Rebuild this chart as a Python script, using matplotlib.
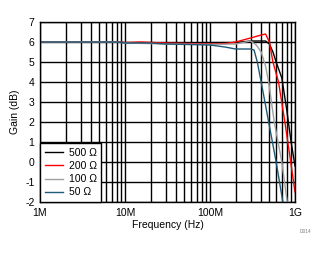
import matplotlib
matplotlib.use("Agg")
import matplotlib.pyplot as plt
from matplotlib.ticker import FixedLocator, LogLocator, NullFormatter

plt.rcParams['font.family'] = ['Liberation Sans', 'DejaVu Sans']
plt.rcParams['axes.unicode_minus'] = False

# frequency (Hz) and gain (dB)
f_500 = [1e6, 8e6, 1e7, 3e7, 1e8, 2e8, 3e8, 4.5e8, 5e8, 5.5e8, 6e8, 7e8, 8e8, 9e8, 1e9]
g_500 = [6.0, 6.0, 5.97, 5.95, 5.97, 5.97, 6.05, 6.05, 5.9, 5.5, 5.0, 4.2, 2.6, 1.0, -0.2]

f_200 = [1e6, 8e6, 1e7, 1.5e7, 3e7, 1e8, 1.5e8, 2e8, 3e8, 4e8, 4.5e8, 5e8, 5.5e8, 6.4e8, 7.6e8, 8.9e8, 1e9]
g_200 = [6.0, 6.0, 5.97, 6.0, 5.95, 5.9, 5.92, 6.0, 6.2, 6.35, 6.4, 6.0, 5.0, 4.0, 2.0, 0.0, -1.5]

f_100 = [1e6, 8e6, 1e7, 3e7, 1e8, 2e8, 3e8, 3.5e8, 4e8, 4.5e8, 4.9e8, 5.7e8, 7e8, 8.1e8]
g_100 = [6.0, 6.0, 5.95, 5.9, 5.88, 5.9, 6.05, 5.85, 5.5, 4.8, 4.0, 2.0, 0.0, -2.0]

f_50 = [1e6, 8e6, 1e7, 2e7, 3e7, 1e8, 1.5e8, 2e8, 3e8, 3.3e8, 3.6e8, 4e8, 4.9e8, 6e8, 7.2e8]
g_50 = [6.0, 6.0, 5.95, 5.95, 5.9, 5.85, 5.75, 5.65, 5.65, 5.6, 5.0, 4.0, 2.0, 0.0, -2.0]

labels = ['500 \u03a9', '200 \u03a9', '100 \u03a9', '50 \u03a9']
colors = ['#000000', '#ff0000', '#a0a0a0', '#1f5a78']

fig = plt.figure(figsize=(3.24, 2.54), dpi=100)
ax = fig.add_axes([40 / 324, 52 / 254, 255 / 324, 180 / 254])

for f, g, lab, c in zip([f_500, f_200, f_100, f_50], [g_500, g_200, g_100, g_50], labels, colors):
    ax.plot(f, g, color=c, lw=1.0, label=lab)

ax.set_xscale('log')
ax.set_xlim(1e6, 1e9)
ax.set_ylim(-2, 7)
ax.set_xticks([1e6, 1e7, 1e8, 1e9])
ax.set_xticklabels(['1M', '10M', '100M', '1G'])
ax.xaxis.set_minor_locator(LogLocator(base=10, subs=range(2, 10)))
ax.xaxis.set_minor_formatter(NullFormatter())
ax.yaxis.set_major_locator(FixedLocator(range(-2, 8)))
ax.grid(True, which='both', color='black', lw=1.0)
ax.set_axisbelow(True)
ax.tick_params(which='both', length=0, labelsize=7.5, pad=4)
for s in ax.spines.values():
    s.set_linewidth(1.0)

ax.set_xlabel('Frequency (Hz)', fontsize=7.5, labelpad=2)
ax.set_ylabel('Gain (dB)', fontsize=7.5, labelpad=4)

leg = ax.legend(loc='lower left', fontsize=7.5, frameon=True, fancybox=False,
                borderaxespad=0, handlelength=1.8, labelspacing=0.3, handletextpad=0.5,
                borderpad=0.45)
leg.get_frame().set_edgecolor('black')
leg.get_frame().set_linewidth(1.0)
leg.get_frame().set_alpha(1.0)

fig.text(305 / 324, 21 / 254, 'D014', fontsize=3.5, color='#808080', ha='center')

fig.savefig('out.png', dpi=100)
